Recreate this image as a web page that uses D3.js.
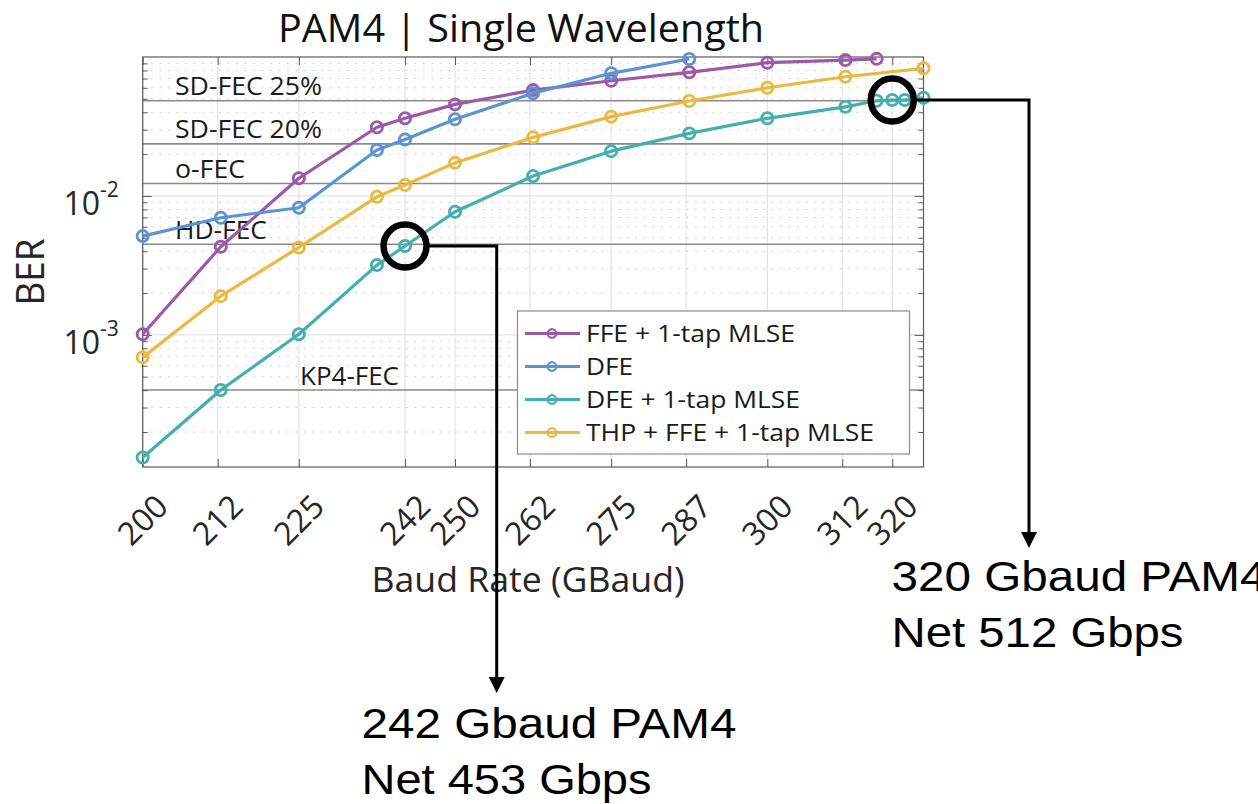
<!DOCTYPE html>
<html><head><meta charset="utf-8">
<script src="https://cdn.jsdelivr.net/npm/d3@7"></script>
<style>body{margin:0;background:#fff} svg{display:block}</style>
</head><body>
<svg id="c" width="1258" height="804"></svg>
<script>
// ---------- data ----------
const xTickValues = [200, 212, 225, 242, 250, 262, 275, 287, 300, 312, 320];
const xTickLabels = ["200", "212", "225", "242", "250", "262", "275", "287", "300", "312", "320"];
const yMajorTicks = [1e-2, 1e-3];
const yMajorLabels = [["10", "-2"], ["10", "-3"]];

const seriesNames = ["FFE + 1-tap MLSE", "DFE", "DFE + 1-tap MLSE", "THP + FFE + 1-tap MLSE"];
const seriesColors = ["#9b5aa9", "#5b94d5", "#44afac", "#ebb942"];

const ffeMlseBaud = [200, 212.5, 225, 237.5, 242, 250, 262.5, 275, 287.5, 300, 312.5, 317.5];
const ffeMlseBer  = [1.01e-3, 4.31e-3, 1.34e-2, 3.12e-2, 3.62e-2, 4.56e-2, 5.78e-2, 6.75e-2, 7.76e-2, 9.1e-2, 9.5e-2, 9.7e-2];

const dfeBaud = [200, 212.5, 225, 237.5, 242, 250, 262.5, 275, 287.5];
const dfeBer  = [5.14e-3, 6.97e-3, 8.22e-3, 2.14e-2, 2.55e-2, 3.56e-2, 5.48e-2, 7.63e-2, 9.68e-2];

const dfeMlseBaud = [200, 212.5, 225, 237.5, 242, 250, 262.5, 275, 287.5, 300, 312.5, 317.5, 320, 322, 325];
const dfeMlseBer  = [1.31e-4, 4.01e-4, 1.01e-3, 3.18e-3, 4.36e-3, 7.69e-3, 1.39e-2, 2.10e-2, 2.82e-2, 3.62e-2, 4.38e-2, 4.84e-2, 4.9e-2, 4.9e-2, 5.09e-2];

const thpBaud = [200, 212.5, 225, 237.5, 242, 250, 262.5, 275, 287.5, 300, 312.5, 325];
const thpBer  = [6.89e-4, 1.90e-3, 4.26e-3, 9.86e-3, 1.20e-2, 1.73e-2, 2.64e-2, 3.72e-2, 4.82e-2, 6.01e-2, 7.21e-2, 8.29e-2];

const fecNames  = ["SD-FEC 25%", "SD-FEC 20%", "o-FEC", "HD-FEC", "KP4-FEC"];
const fecLevels = [4.84e-2, 2.37e-2, 1.23e-2, 4.49e-3, 4.01e-4];

const annoBaud = [242, 320];
const annoBer  = [4.36e-3, 4.9e-2];
const annoLine1 = ["242 Gbaud PAM4", "320 Gbaud PAM4"];
const annoLine2 = ["Net 453 Gbps", "Net 512 Gbps"];

// ---------- layout ----------
const L = 142.7, R = 923.5, T = 57, B = 467;
const svg = d3.select("#c");
const FONT = "'Open Sans', 'Noto Sans', sans-serif";
const x = d3.scaleLinear().domain([200, 325]).range([L, R]);
const y = d3.scaleLog().domain([1.12e-4, 1e-1]).range([B, T]);

// minor y values
const yMinor = [];
for (let k = -4; k <= -2; k++) for (let m = 2; m <= 9; m++) {
  const v = m * Math.pow(10, k);
  if (v >= 1.12e-4 && v <= 1e-1) yMinor.push(v);
}

// background
svg.append("rect").attr("x", L).attr("y", T).attr("width", R - L).attr("height", B - T).attr("fill", "#fff");

// grid
const grid = svg.append("g");
grid.selectAll(".ym").data(yMinor).join("line")
  .attr("x1", L).attr("x2", R).attr("y1", d => y(d)).attr("y2", d => y(d))
  .attr("stroke", "#c4c4c4").attr("stroke-width", 1).attr("stroke-dasharray", "1.5,7");
grid.selectAll(".yM").data(yMajorTicks).join("line")
  .attr("x1", L).attr("x2", R).attr("y1", d => y(d)).attr("y2", d => y(d))
  .attr("stroke", "#e3e3e3").attr("stroke-width", 1.2);
grid.selectAll(".xg").data(xTickValues).join("line")
  .attr("x1", d => x(d)).attr("x2", d => x(d)).attr("y1", T).attr("y2", B)
  .attr("stroke", "#e3e3e3").attr("stroke-width", 1.2);

// FEC threshold lines
grid.selectAll(".fec").data(fecLevels).join("line")
  .attr("x1", L).attr("x2", R).attr("y1", d => y(d)).attr("y2", d => y(d))
  .attr("stroke", "#8a8a8a").attr("stroke-width", 1.6);
const fecLabelX = [175, 175, 175, 175, 300];
const fecLabelW = [147, 147, 70, 92, 99];
svg.append("g").selectAll("text").data(fecNames).join("text")
  .attr("x", (d, i) => fecLabelX[i]).attr("y", (d, i) => y(fecLevels[i]) - 5.5)
  .attr("font-family", FONT).attr("font-size", 25.5).attr("fill", "#1a1a1a")
  .attr("textLength", (d, i) => fecLabelW[i]).attr("lengthAdjust", "spacingAndGlyphs")
  .text(d => d);

// axes (inward ticks)
const axisCol = "#5a5a5a";
function styleAxis(g) { g.select(".domain").remove(); g.selectAll("line").attr("stroke", axisCol); g.selectAll("text").remove(); }
svg.append("g").attr("transform", `translate(0,${B})`).call(d3.axisBottom(x).tickValues(xTickValues).tickSize(-8)).call(styleAxis);
svg.append("g").attr("transform", `translate(0,${T})`).call(d3.axisTop(x).tickValues(xTickValues).tickSize(-8)).call(styleAxis);
svg.append("g").attr("transform", `translate(${L},0)`).call(d3.axisLeft(y).tickValues(yMinor).tickSize(-5)).call(styleAxis);
svg.append("g").attr("transform", `translate(${L},0)`).call(d3.axisLeft(y).tickValues(yMajorTicks).tickSize(-9)).call(styleAxis);
svg.append("g").attr("transform", `translate(${R},0)`).call(d3.axisRight(y).tickValues(yMinor).tickSize(-5)).call(styleAxis);
svg.append("g").attr("transform", `translate(${R},0)`).call(d3.axisRight(y).tickValues(yMajorTicks).tickSize(-9)).call(styleAxis);
svg.append("rect").attr("x", L).attr("y", T).attr("width", R - L).attr("height", B - T)
  .attr("fill", "none").attr("stroke", axisCol).attr("stroke-width", 1.2);

// x tick labels
svg.append("g").selectAll("text").data(xTickValues).join("text")
  .attr("transform", d => `translate(${x(d)},${B + 53}) rotate(-45)`)
  .attr("text-anchor", "middle").attr("dy", "0.35em")
  .attr("font-family", FONT).attr("font-size", 32).attr("fill", "#262626")
  .text((d, i) => xTickLabels[i]);

// y tick labels
const yl = svg.append("g").selectAll("g").data(yMajorTicks).join("g");
yl.append("text").attr("x", 100).attr("y", d => y(d) + 19)
  .attr("text-anchor", "end").attr("font-family", FONT).attr("font-size", 32).attr("fill", "#262626")
  .text((d, i) => yMajorLabels[i][0]);
yl.append("text").attr("x", 100).attr("y", d => y(d) + 1)
  .attr("font-family", FONT).attr("font-size", 21).attr("fill", "#262626")
  .text((d, i) => yMajorLabels[i][1]);

// axis labels and title
svg.append("text").attr("x", 528).attr("y", 592).attr("text-anchor", "middle")
  .attr("font-family", FONT).attr("font-size", 34).attr("fill", "#262626")
  .attr("textLength", 313).attr("lengthAdjust", "spacingAndGlyphs").text("Baud Rate (GBaud)");
svg.append("text").attr("transform", "translate(44,272) rotate(-90)").attr("text-anchor", "middle")
  .attr("font-family", FONT).attr("font-size", 38).attr("fill", "#262626")
  .attr("textLength", 67).attr("lengthAdjust", "spacingAndGlyphs").text("BER");
svg.append("text").attr("x", 521).attr("y", 42).attr("text-anchor", "middle")
  .attr("font-family", FONT).attr("font-size", 39).attr("fill", "#111")
  .attr("textLength", 486).attr("lengthAdjust", "spacingAndGlyphs").text("PAM4 | Single Wavelength");

// series
const series = [
  { baud: ffeMlseBaud, ber: ffeMlseBer },
  { baud: dfeBaud, ber: dfeBer },
  { baud: dfeMlseBaud, ber: dfeMlseBer },
  { baud: thpBaud, ber: thpBer }
].map((s, i) => ({ name: seriesNames[i], color: seriesColors[i], pts: s.baud.map((b, j) => ({ b, v: s.ber[j] })) }));

const line = d3.line().x(d => x(d.b)).y(d => y(d.v));
const sg = svg.append("g").selectAll("g").data(series).join("g");
sg.append("path").attr("d", d => line(d.pts)).attr("fill", "none")
  .attr("stroke", d => d.color).attr("stroke-width", 3.2).attr("stroke-linejoin", "round");
sg.each(function (s) {
  d3.select(this).selectAll("circle").data(s.pts).join("circle")
    .attr("cx", d => x(d.b)).attr("cy", d => y(d.v)).attr("r", 5.6)
    .attr("fill", "none").attr("stroke", s.color).attr("stroke-width", 2.8);
});

// legend
const lg = svg.append("g");
lg.append("rect").attr("x", 517.5).attr("y", 311).attr("width", 392).attr("height", 143)
  .attr("fill", "#fff").attr("stroke", "#8c8c8c").attr("stroke-width", 1.2);
const legW = [209, 47, 214, 288];
const li = lg.selectAll("g").data(series).join("g")
  .attr("transform", (d, i) => `translate(0,${333.5 + i * 33})`);
li.append("line").attr("x1", 525).attr("x2", 580).attr("stroke", d => d.color).attr("stroke-width", 3);
li.append("circle").attr("cx", 552).attr("r", 4.3).attr("fill", "none").attr("stroke", d => d.color).attr("stroke-width", 2.2);
li.append("text").attr("x", 586).attr("y", 8.5)
  .attr("font-family", FONT).attr("font-size", 24).attr("fill", "#1a1a1a")
  .attr("textLength", (d, i) => legW[i]).attr("lengthAdjust", "spacingAndGlyphs")
  .text(d => d.name);

// annotations
const annoElbowX = [496.7, 1029];
const annoArrowTip = [693, 548];
const annoTextX = [361.5, 891.5];
const annoTextY = [738, 591];
const annoW1 = [375, 375];
const annoW2 = [290, 292];
const ag = svg.append("g");
annoBaud.forEach((b, i) => {
  const cx = x(b), cy = y(annoBer[i]);
  ag.append("circle").attr("cx", cx).attr("cy", cy).attr("r", 21.5)
    .attr("fill", "none").attr("stroke", "#000").attr("stroke-width", 6.5);
  ag.append("path").attr("d", `M${cx + 24},${cy}H${annoElbowX[i]}V${annoArrowTip[i] - 15}`)
    .attr("fill", "none").attr("stroke", "#000").attr("stroke-width", 3);
  ag.append("path").attr("d", `M${annoElbowX[i] - 8},${annoArrowTip[i] - 16}L${annoElbowX[i] + 8},${annoArrowTip[i] - 16}L${annoElbowX[i]},${annoArrowTip[i]}Z`)
    .attr("fill", "#000");
  ag.append("text").attr("x", annoTextX[i]).attr("y", annoTextY[i])
    .attr("font-family", "'Liberation Sans', Arial, sans-serif").attr("font-size", 42).attr("fill", "#000")
    .attr("textLength", annoW1[i]).attr("lengthAdjust", "spacingAndGlyphs").text(annoLine1[i]);
  ag.append("text").attr("x", annoTextX[i]).attr("y", annoTextY[i] + 56)
    .attr("font-family", "'Liberation Sans', Arial, sans-serif").attr("font-size", 42).attr("fill", "#000")
    .attr("textLength", annoW2[i]).attr("lengthAdjust", "spacingAndGlyphs").text(annoLine2[i]);
});
</script>
</body></html>
